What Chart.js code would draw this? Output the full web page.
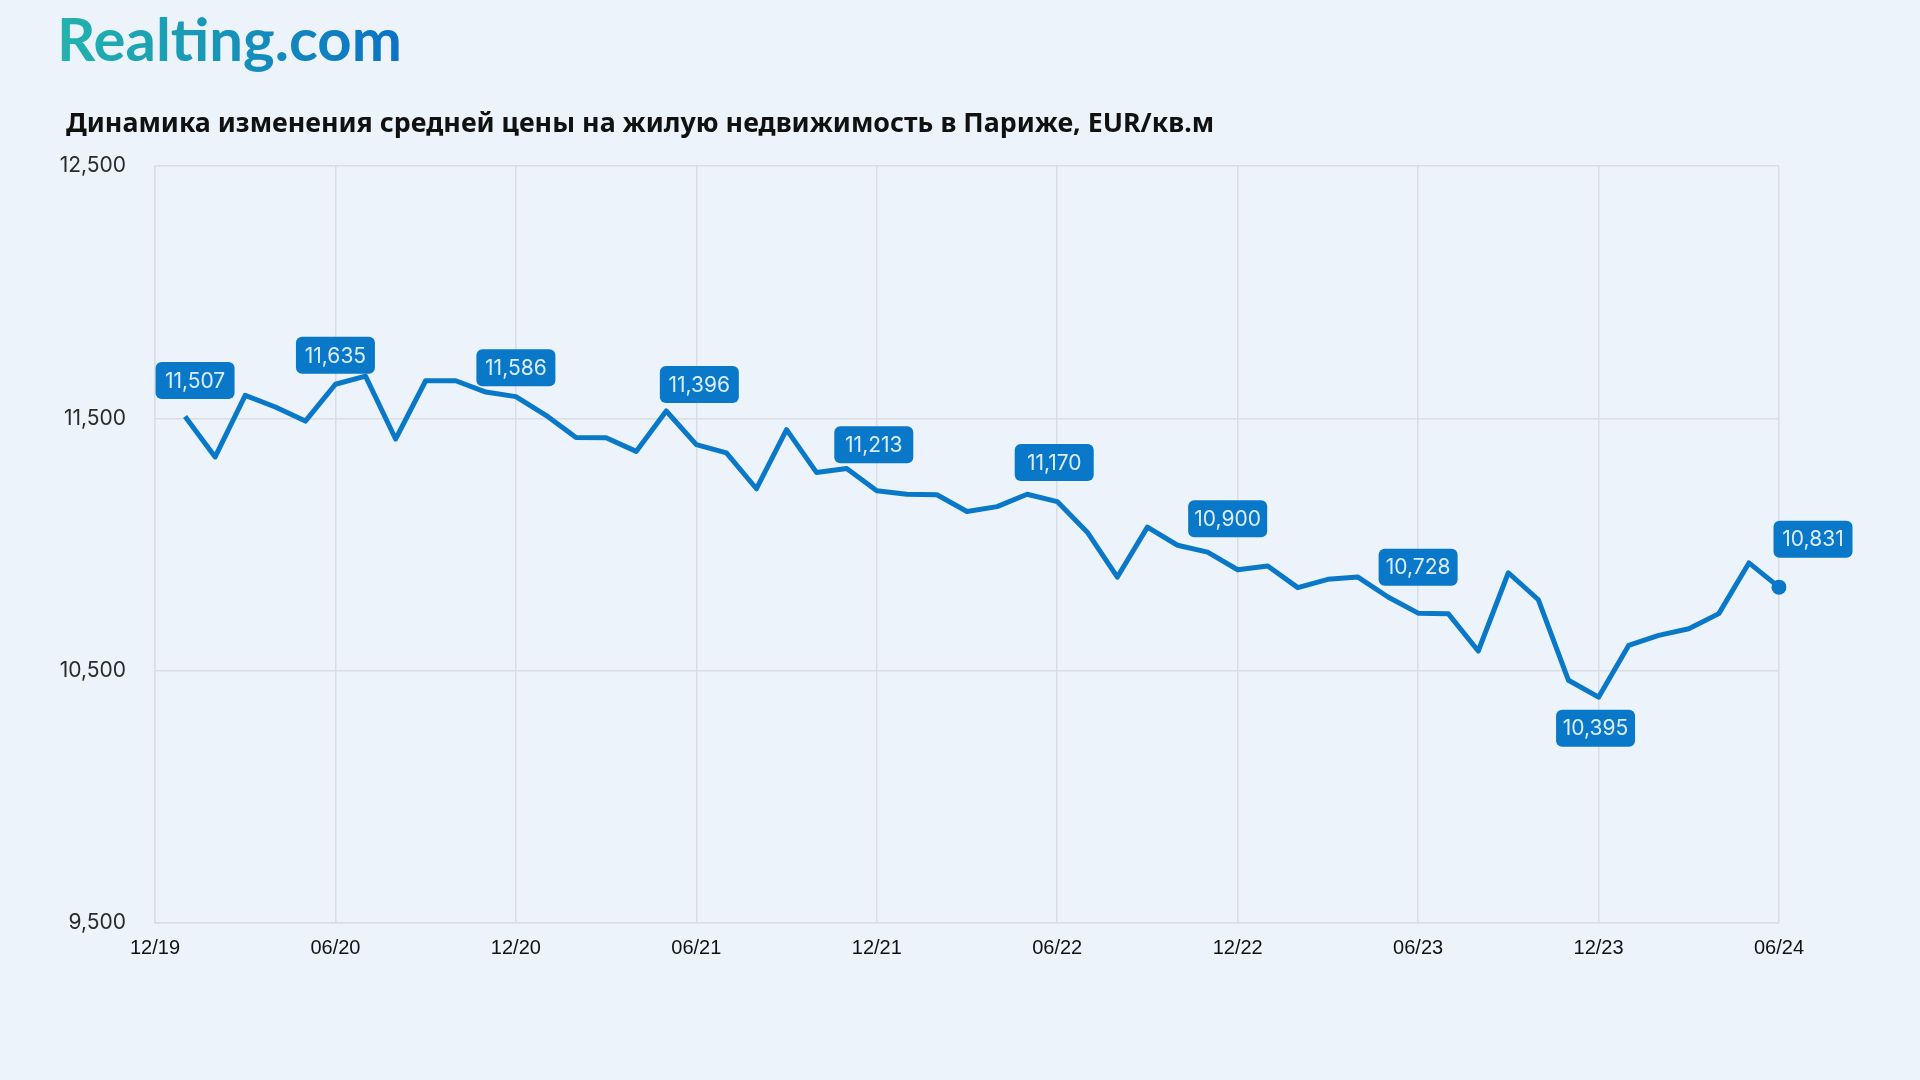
<!DOCTYPE html>
<html>
<head>
<meta charset="utf-8">
<title>Realting - Paris</title>
<script src="https://cdn.jsdelivr.net/npm/chart.js@4.4.1/dist/chart.umd.min.js"></script>
<style>
  html, body { margin: 0; padding: 0; background: #edf3fa; }
  #chart { display: block; }
</style>
</head>
<body>
<canvas id="chart" width="1920" height="1080"></canvas>
<script>
'use strict'

// months on the x axis (12/19 has no value, line starts at 01/20)
const months = [
  '12/19',
  '01/20','02/20','03/20','04/20','05/20','06/20','07/20','08/20','09/20','10/20','11/20','12/20',
  '01/21','02/21','03/21','04/21','05/21','06/21','07/21','08/21','09/21','10/21','11/21','12/21',
  '01/22','02/22','03/22','04/22','05/22','06/22','07/22','08/22','09/22','10/22','11/22','12/22',
  '01/23','02/23','03/23','04/23','05/23','06/23','07/23','08/23','09/23','10/23','11/23','12/23',
  '01/24','02/24','03/24','04/24','05/24','06/24'
];

// average price EUR per sq.m
const prices = [
  null,
  11507, 11347, 11591, 11545, 11489, 11635, 11667, 11418, 11649, 11649, 11604, 11586,
  11512, 11424, 11423, 11369, 11529, 11396, 11363, 11221, 11455, 11285, 11301, 11213,
  11199, 11197, 11131, 11150, 11199, 11170, 11049, 10871, 11069, 10997, 10970, 10900,
  10915, 10829, 10862, 10871, 10792, 10728, 10726, 10578, 10888, 10781, 10462, 10395,
  10600, 10640, 10666, 10726, 10927, 10831
];

const yTicks = [9500, 10500, 11500, 12500];

// which points get a value tag
const tagIndex = [1, 6, 12, 18, 24, 30, 36, 42, 48, 54];
// where the tag box sits relative to its point
const tagDx = [10, 0, 0, 3, -3, -3, -10, 0, -3, 34];
const tagDy = [-36, -29, -29, -60, -46, -39, -51, -46, 31, -48];

const titleText = 'Динамика изменения средней цены на жилую недвижимость в Париже, EUR/кв.м';

const blue = '#0a78c8';
const gridColor = '#d9dee5';

function fitFont(ctx, text, weight, family, target) {
    ctx.font = weight + ' 50px "' + family + '"';
    const size = 50 * target / ctx.measureText(text).width;
    return weight + ' ' + size.toFixed(1) + 'px "' + family + '"';
}

// background, logo and title
const headerPlugin = {
    id: 'header',
    beforeDraw(chart) {
        const ctx = chart.ctx;
        ctx.save();
        ctx.fillStyle = '#edf3fa';
        ctx.fillRect(0, 0, chart.width, chart.height);

        ctx.textBaseline = 'alphabetic';
        ctx.textAlign = 'left';
        ctx.font = fitFont(ctx, 'Realting.com', '700', 'Lato', 345);
        const g = ctx.createLinearGradient(57, 0, 402, 0);
        g.addColorStop(0, '#23b3ad');
        g.addColorStop(1, '#0a72c6');
        ctx.fillStyle = g;
        ctx.fillText('Realting.com', 57, 61);

        ctx.font = fitFont(ctx, titleText, '700', 'Noto Sans', 1147);
        ctx.fillStyle = '#111';
        ctx.fillText(titleText, 66, 132);
        ctx.restore();
    }
};

// blue value boxes over the line
const tagPlugin = {
    id: 'tags',
    afterDatasetsDraw(chart) {
        const ctx = chart.ctx;
        const meta = chart.getDatasetMeta(0);
        ctx.save();
        ctx.font = '21px Inter';
        ctx.textAlign = 'center';
        ctx.textBaseline = 'middle';
        tagIndex.forEach((idx, i) => {
            const pt = meta.data[idx];
            const cx = pt.x + tagDx[i];
            const cy = pt.y + tagDy[i];
            ctx.fillStyle = blue;
            ctx.beginPath();
            ctx.roundRect(cx - 39.5, cy - 18.5, 79, 37, 6);
            ctx.fill();
            ctx.fillStyle = '#dcedff';
            ctx.fillText(prices[idx].toLocaleString('en-US'), cx, cy + 1);
        });
        ctx.restore();
    }
};

const ctx = document.getElementById('chart').getContext('2d');

const myChart = new Chart(ctx, {
    type: 'line',
    data: {
        labels: months,
        datasets: [{
            data: prices,
            borderColor: blue,
            backgroundColor: blue,
            borderWidth: 5,
            borderJoinStyle: 'round',
            tension: 0,
            pointRadius: c => c.dataIndex === prices.length - 1 ? 7.5 : 0,
            pointBorderWidth: 0,
            pointHoverRadius: 0
        }]
    },
    options: {
        responsive: false,
        animation: false,
        devicePixelRatio: 1,
        layout: { padding: { left: 0, top: 166, right: 141, bottom: 97 } },
        plugins: {
            legend: { display: false },
            tooltip: { enabled: false }
        },
        scales: {
            x: {
                ticks: {
                    autoSkip: false,
                    maxRotation: 0,
                    padding: 13,
                    color: '#111',
                    font: { family: 'Liberation Sans', size: 20 },
                    callback: (v, i) => i % 6 === 0 ? months[i] : ''
                },
                grid: {
                    color: c => c.index % 6 === 0 ? gridColor : 'transparent',
                    lineWidth: 1.5,
                    drawTicks: false
                },
                border: { color: gridColor, width: 1.5 },
                afterFit: s => { s.height = 60; }
            },
            y: {
                min: 9500,
                max: 12500,
                afterBuildTicks: s => { s.ticks = yTicks.map(v => ({ value: v })); },
                ticks: {
                    padding: 29,
                    color: '#2a2a2a',
                    font: { family: 'Inter', size: 21 },
                    callback: v => v.toLocaleString('en-US')
                },
                grid: { color: gridColor, lineWidth: 1.5, drawTicks: false },
                border: { color: gridColor, width: 1.5 },
                afterFit: s => { s.width = 155; }
            }
        }
    },
    plugins: [headerPlugin, tagPlugin]
});
</script>
</body>
</html>
